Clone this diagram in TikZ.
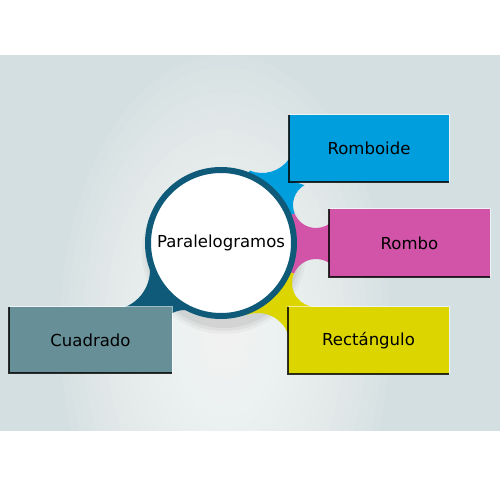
\documentclass[tikz,border=0pt]{standalone}
\usepackage{fontspec}
\setmainfont{DejaVu Sans}
\usetikzlibrary{calc}
\definecolor{bgc}{HTML}{D4DFE1}
\definecolor{cblue}{HTML}{009EDD}
\definecolor{cmag}{HTML}{D254A9}
\definecolor{cyel}{HTML}{DCD500}
\definecolor{cgrey}{HTML}{678F98}
\definecolor{cteal}{HTML}{0E5A78}
\tikzset{
  box/.style={rectangle, inner sep=0pt, minimum height=13.4mm, font=\fontsize{9.4pt}{11pt}\selectfont, text=black},
  hubstyle/.style={circle, draw=cteal, line width=1.2mm, fill=white, minimum size=29.2mm, inner sep=0pt, font=\fontsize{9.4pt}{11pt}\selectfont, text=black},
  darkedge/.style={draw=black, opacity=0.8, line width=0.4mm},
  lightedge/.style={draw=white, opacity=0.6, line width=0.2mm},
}
\begin{document}
\begin{tikzpicture}[x=0.2mm,y=-0.2mm]
\useasboundingbox (0,0) rectangle (500,500);
\fill[white] (0,0) rectangle (500,500);
\fill[bgc] (0,55) rectangle (500,431);
\begin{scope}
  \clip (0,55) rectangle (500,431);
  \foreach \i in {1,...,22} {
    \fill[white, opacity=0.07] (225,330) ellipse [x radius={7.5*\i}, y radius={12.5*\i}];
  }
\end{scope}
% shadow under hub
\foreach \r/\o in {82/0.03,79/0.04,76/0.05} {
  \fill[black, opacity=\o] (224,252) circle [radius=\r];
}
\coordinate (C0) at (221,243);
\coordinate (W1) at (262,140);
\coordinate (W2) at (316,205);
\coordinate (W3) at (316,283);
\coordinate (W4) at (258,345);
\coordinate (W5) at (110,270);
\coordinate (W6) at (185,338);
% blobs
\fill[cblue] (C0) -- ($(W1)+(112.1:33)$) arc[start angle=112.1,end angle=35.1,radius=33]
  -- (295,159) -- (295,182) -- ($(W2)+(-120:23)$) arc[start angle=-120,end angle=-201.8,radius=23] -- cycle;
\fill[cmag] (C0) -- ($(W2)+(158.2:23)$) arc[start angle=158.2,end angle=55.6,radius=23]
  -- (335,224) -- (335,262) -- ($(W3)+(-57.2:24)$) arc[start angle=-57.2,end angle=-157.2,radius=24] -- cycle;
\fill[cyel] (C0) -- ($(W3)+(202.8:24)$) arc[start angle=202.8,end angle=90,radius=24]
  -- (316,345) -- ($(W4)+(0:32)$) arc[start angle=0,end angle=-109.9,radius=32] -- cycle;
\fill[cteal] (C0) -- ($(W5)+(-13.7:40)$) arc[start angle=-13.7,end angle=70,radius=40]
  -- (123.7,330) -- (170,330) -- ($(W6)+(-117.7:28)$) arc[start angle=-117.7,end angle=-69.2,radius=28] -- cycle;
% hub
\node[hubstyle] (hub) at (C0) {Paralelogramos};
% boxes
\node[box, fill=cblue, minimum width=32mm] (romboide) at (369,148.5) {Romboide};
\node[box, fill=cmag, minimum width=32.2mm, minimum height=13.6mm] (rombo) at (409.5,243) {Rombo};
\node[box, fill=cyel, minimum width=32.2mm] (rect) at (368.5,340.5) {Rectángulo};
\node[box, fill=cgrey, minimum width=32.6mm, minimum height=13.2mm] (cuad) at (90.5,340) {Cuadrado};
\foreach \n in {romboide,rombo,rect,cuad} {
  \draw[lightedge] (\n.north west) -- (\n.north east) -- (\n.south east);
  \draw[darkedge] (\n.north west) -- (\n.south west) -- (\n.south east);
}
\end{tikzpicture}
\end{document}
